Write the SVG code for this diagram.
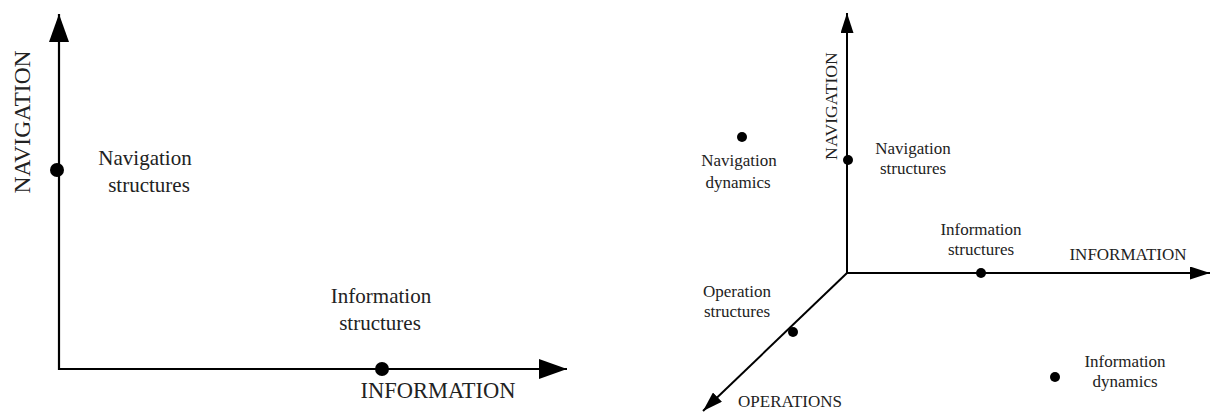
<svg xmlns="http://www.w3.org/2000/svg" width="1210" height="414" viewBox="0 0 1210 414">
  <style>
    .axis { stroke: #000; fill: none; }
    .thick { stroke-width: 2.2; }
    .thin { stroke-width: 2; }
    .dot { fill: #000; }
    text { font-family: "Liberation Serif", "Times New Roman", serif; fill: #222; text-anchor: middle; }
    .big { font-size: 21px; }
    .small { font-size: 17px; }
  </style>
  <defs>
    <marker id="headBig" markerUnits="userSpaceOnUse" markerWidth="28" markerHeight="20" refX="28" refY="10" orient="auto">
      <path d="M0,0 L28,10 L0,20 z" fill="#000"/>
    </marker>
    <marker id="headSmall" markerUnits="userSpaceOnUse" markerWidth="20" markerHeight="13" refX="20" refY="6.5" orient="auto">
      <path d="M0,0 L20,6.5 L0,13 z" fill="#000"/>
    </marker>
  </defs>

  <!-- two-dimensional space -->
  <g id="connectors-2d">
    <line class="axis thick" x1="59" y1="370" x2="59" y2="14" marker-end="url(#headBig)"/>
    <line class="axis thick" x1="58" y1="369" x2="567" y2="369" marker-end="url(#headBig)"/>
  </g>
  <g id="axis-navigation-2d">
    <text class="big" transform="translate(30,122) rotate(-90)" style="font-size:23.5px">NAVIGATION</text>
  </g>
  <g id="axis-information-2d">
    <text class="big" x="438" y="398" style="font-size:22.5px">INFORMATION</text>
  </g>
  <g id="navigation-structures-2d">
    <circle class="dot" cx="57" cy="170" r="7"/>
    <text class="big" x="145" y="165">Navigation</text>
    <text class="big" x="149" y="192">structures</text>
  </g>
  <g id="information-structures-2d">
    <circle class="dot" cx="382" cy="369" r="7"/>
    <text class="big" x="381" y="303">Information</text>
    <text class="big" x="380" y="330">structures</text>
  </g>

  <!-- three-dimensional space -->
  <g id="connectors-3d">
    <line class="axis thin" x1="847" y1="274" x2="847" y2="13" marker-end="url(#headSmall)"/>
    <line class="axis thin" x1="846" y1="273" x2="1210" y2="273" marker-end="url(#headSmall)"/>
    <line class="axis thin" x1="847" y1="273" x2="703" y2="411" marker-end="url(#headSmall)"/>
  </g>
  <g id="axis-navigation-3d">
    <text class="small" transform="translate(837,106) rotate(-90)" style="font-size:17.7px">NAVIGATION</text>
  </g>
  <g id="axis-information-3d">
    <text class="small" x="1128" y="260">INFORMATION</text>
  </g>
  <g id="axis-operations-3d">
    <text class="small" x="790" y="407">OPERATIONS</text>
  </g>
  <g id="navigation-structures-3d">
    <circle class="dot" cx="848" cy="160" r="5"/>
    <text class="small" x="913" y="154">Navigation</text>
    <text class="small" x="913" y="174">structures</text>
  </g>
  <g id="navigation-dynamics-3d">
    <circle class="dot" cx="742" cy="137" r="5"/>
    <text class="small" x="739" y="166">Navigation</text>
    <text class="small" x="738" y="188">dynamics</text>
  </g>
  <g id="information-structures-3d">
    <circle class="dot" cx="981" cy="273" r="5"/>
    <text class="small" x="981" y="235">Information</text>
    <text class="small" x="981" y="255">structures</text>
  </g>
  <g id="operation-structures-3d">
    <circle class="dot" cx="793" cy="332" r="5"/>
    <text class="small" x="737" y="297">Operation</text>
    <text class="small" x="737" y="317">structures</text>
  </g>
  <g id="information-dynamics-3d">
    <circle class="dot" cx="1055" cy="377" r="5"/>
    <text class="small" x="1125" y="367">Information</text>
    <text class="small" x="1125" y="387">dynamics</text>
  </g>
</svg>
